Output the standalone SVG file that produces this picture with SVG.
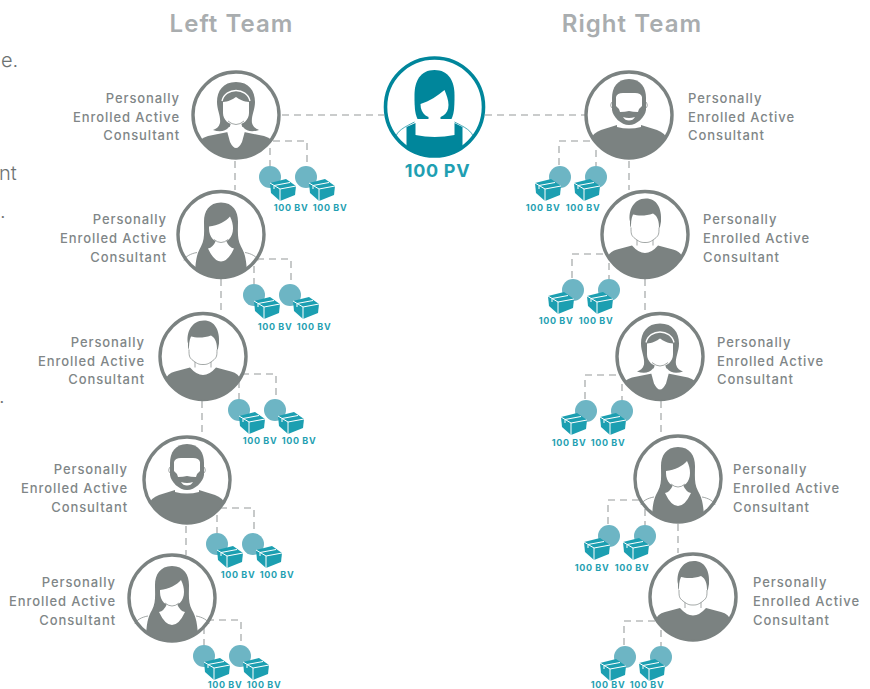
<svg xmlns="http://www.w3.org/2000/svg" xmlns:xlink="http://www.w3.org/1999/xlink" width="870" height="689" viewBox="0 0 870 689">
<style>
text{font-family:"Inter","Liberation Sans",sans-serif}
.title{font-size:24px;font-weight:600;fill:#a9adaf;letter-spacing:1.05px;text-anchor:middle}
.lab{font-size:13px;font-weight:500;fill:#808687;letter-spacing:.92px}
.end{text-anchor:end}
.bv{font-size:9px;font-weight:700;fill:#1f9fb2;text-anchor:middle;letter-spacing:.6px}
.pv{font-size:18px;font-weight:700;fill:#1f9fb2;text-anchor:middle;letter-spacing:.7px}
.stray{font-size:20px;font-weight:300;fill:#6d7272}
.dash{fill:none;stroke:#b9bcbc;stroke-width:1.6;stroke-dasharray:7 5}
.ring{fill:#fff;stroke:#7b8281;stroke-width:3.4}
.g{fill:#7b8281}
.w{fill:#fff}
.t{fill:none;stroke:#7b8281;stroke-width:.7}
.c{fill:#6db5c4}
.b{fill:#1c9fb1}
.bl{fill:none;stroke:#fff;stroke-width:1}
</style>
<defs>
<clipPath id="cp"><circle r="43"/></clipPath>
<clipPath id="cpc"><circle r="49"/></clipPath>
<symbol id="box" overflow="visible">
<path class="b" d="M-13-7 3-11 13-4 12 5-3 11-12 3Z"/>
<path class="bl" d="M-13-7-3-1 13-4M-3-1V11M-9-4.500 7-7.500M-9-4.500V-1"/>
</symbol>
<g id="pack-l">
<circle class="c" cx="270" cy="177" r="11"/><circle class="c" cx="306" cy="177" r="11"/>
<use href="#box" x="283" y="190"/><use href="#box" x="322" y="190"/>
</g>
<g id="pack-r">
<circle class="c" cx="560" cy="177" r="11"/><circle class="c" cx="596" cy="177" r="11"/>
<use href="#box" x="548" y="190"/><use href="#box" x="587" y="190"/>
</g>
<g id="av-headband">
<circle class="ring" r="43"/>
<g clip-path="url(#cp)">
<path class="g" d="M-36 44V27Q-35 23-28 21L-8 17H8L28 21Q35 23 36 27V44Z"/>
<path class="w" d="M-9 16-6 27Q-3 33 0 33T6 27L9 16Z"/>
</g>
<path class="g" d="M0-33C-13-33-19-24-19-13-19-5-15 1-16 8-17 12-20 14-23 15-17 17-11 17-7 12H7C11 17 17 17 23 15 20 14 17 12 16 8 15 1 19-5 19-13 19-24 13-33 0-33Z"/>
<path class="w" d="M-13-13C-8-13-3-16 0-18 3-16 8-13 13-13V-2C13 5 7 10 0 10S-13 5-13-2Z"/>
<path fill="none" stroke="#fff" stroke-width="1.300" d="M-14-14C-11-28 11-28 14-14"/>
<path class="w" d="M-5 8H5L8 17-1 20-8 17Z"/>
<path class="t" d="M-8 6Q0 13 8 6"/>
</g>
<g id="av-long">
<circle class="ring" r="43"/>
<path class="t" d="M-37 26C-36 22-30 19-24 18M37 26C36 22 30 19 24 18"/>
<g clip-path="url(#cp)">
<path class="g" d="M0-32C-12-32-17-23-17-13-17-3-16 5-20 12-24 19-26 26-26 44H26C26 26 24 19 20 12 16 5 17-3 17-13 17-23 12-32 0-32Z"/>
</g>
<path class="w" d="M-13 14Q-8 13-5 6H5Q8 13 13 14 7 27 0 27T-13 14Z"/>
<path class="w" d="M-12-8C-3-9 5-13 9-18 11-14 12-10 12-6 12 3 6 8 0 8S-12 3-12-6Z"/>
<path class="t" d="M-7 5Q0 11 7 5"/>
</g>
<g id="av-man">
<circle class="ring" r="43"/>
<g clip-path="url(#cp)">
<path class="g" d="M-38 44V24Q-36 17-28 15L-13 11Q0 26 13 11L28 15Q36 17 38 24V44Z"/>
</g>
<path class="w" d="M-8 2V11Q0 24 8 11V2Z"/>
<path class="t" d="M-8 4V11M8 4V11"/>
<path class="w" d="M-14-18C-14-8-15 0-10 4-5 8-3 8 0 8S5 8 10 4C15 0 14-8 14-18Z"/>
<path class="t" d="M-14-7C-14-1-14 1-10 4-5 8-3 8 0 8S5 8 10 4C14 1 14-1 14-7"/>
<path class="g" d="M-15-13C-17-23-12-36 1-36 12-36 17-26 16-13 15-8 15-6 14-7 14-13 13-18 8-21 0-18-8-19-12-20-14-16-14-11-14-7-15-8-15-10-15-13Z"/>
</g>
<g id="av-beard">
<circle class="ring" r="43"/>
<g clip-path="url(#cp)">
<path class="g" d="M-38 44V24Q-36 18-28 15L-12 10H12L28 15Q36 18 38 24V44Z"/>
</g>
<path class="w" d="M-12 5-12 12Q0 15 12 12L12 5Z"/>
<path class="t" d="M-17-13Q-20-9-16-6M17-13Q20-9 16-6"/>
<path class="g" d="M0-36C-12-36-17-27-17-17V-5C-16 2-8 10 0 10S16 2 17-5V-17C17-27 12-36 0-36Z"/>
<path class="w" d="M-13-9V-18Q-12-22-6-22H6Q12-22 13-18V-9Q10-7 9-3 4-3 0-4-4-3-9-3-10-7-13-9Z"/>
<path class="w" d="M-6 2Q0 4 6 2 4 5.500 0 5.500T-6 2Z"/>
</g>
</defs>

<g id="stray-text">
<text class="stray" x="1" y="67">e.</text>
<text class="stray" x="-1" y="180">nt</text>
<text class="stray" x="0" y="218">.</text>
<text class="stray" x="-1" y="403">.</text>
</g>

<g id="titles">
<text class="title" x="231.500" y="32">Left Team</text>
<text class="title" x="632" y="32">Right Team</text>
</g>

<g id="connectors">
<path class="dash" d="M282 115H384M485 115H585"/>
<path class="dash" d="M235 161V190M221 279V312M202 401V435M186 526V555M629 161V190M645 279V312M661 401V435M678 524V553"/>
<path id="br-l" class="dash" d="M273 141H307V166M270 148V166"/>
<use href="#br-l" x="-16" y="118"/><use href="#br-l" x="-31" y="233"/><use href="#br-l" x="-53" y="367"/><use href="#br-l" x="-66" y="479"/>
<path id="br-r" class="dash" d="M590 141H559V166M596 150V166"/>
<use href="#br-r" x="13" y="113"/><use href="#br-r" x="26" y="234"/><use href="#br-r" x="49" y="359"/><use href="#br-r" x="65" y="480"/>
</g>

<g id="center-node">
<circle r="49" cx="434.500" cy="107" fill="#fff" stroke="#00869b" stroke-width="3.600"/>
<g transform="translate(434.500 107)">
<path fill="none" stroke="#00869b" stroke-width=".7" d="M-39 31C-38 24-30 20-20 15M39 31C38 24 30 20 20 15"/>
<g clip-path="url(#cpc)"><path fill="#00869b" d="M-28 50V20L-19 16V28Q0 32 20 28V16L28 20V50Z"/></g>
<path fill="#00869b" d="M0-37C-14-37-20-26-20-12-20-3-20 6-17 12H17C20 6 20-3 20-12 20-26 14-37 0-37Z"/>
<path class="w" d="M-14-3C-5-6 3-11 10-17 12-12 14-7 14-2 14 8 6 11 0 11S-14 8-14-3Z"/>
<path class="w" d="M-6 9H6V18L0 21-6 18Z"/>
</g>
<text class="pv" x="437.500" y="177">100 PV</text>
</g>

<g id="l1"><use href="#av-headband" transform="translate(236 115)"/><text class="lab end" x="180" y="103">Personally</text><text class="lab end" x="180" y="122">Enrolled Active</text><text class="lab end" x="180" y="140">Consultant</text></g>
<g id="l2"><use href="#av-long" transform="translate(221 234.500)"/><text class="lab end" x="167" y="224">Personally</text><text class="lab end" x="167" y="243">Enrolled Active</text><text class="lab end" x="167" y="262">Consultant</text></g>
<g id="l3"><use href="#av-man" transform="translate(203 356.500)"/><text class="lab end" x="145" y="347">Personally</text><text class="lab end" x="145" y="366">Enrolled Active</text><text class="lab end" x="145" y="384">Consultant</text></g>
<g id="l4"><use href="#av-beard" transform="translate(187 480)"/><text class="lab end" x="128" y="474">Personally</text><text class="lab end" x="128" y="493">Enrolled Active</text><text class="lab end" x="128" y="512">Consultant</text></g>
<g id="l5"><use href="#av-long" transform="translate(172 598)"/><text class="lab end" x="116" y="587">Personally</text><text class="lab end" x="116" y="606">Enrolled Active</text><text class="lab end" x="116" y="625">Consultant</text></g>

<g id="r1"><use href="#av-beard" transform="translate(629 115)"/><text class="lab" x="688" y="103">Personally</text><text class="lab" x="688" y="122">Enrolled Active</text><text class="lab" x="688" y="140">Consultant</text></g>
<g id="r2"><use href="#av-man" transform="translate(645 234.500)"/><text class="lab" x="703" y="224">Personally</text><text class="lab" x="703" y="243">Enrolled Active</text><text class="lab" x="703" y="262">Consultant</text></g>
<g id="r3"><use href="#av-headband" transform="translate(660 356.500)"/><text class="lab" x="717" y="347">Personally</text><text class="lab" x="717" y="366">Enrolled Active</text><text class="lab" x="717" y="384">Consultant</text></g>
<g id="r4"><use href="#av-long" transform="translate(678 479)"/><text class="lab" x="733" y="474">Personally</text><text class="lab" x="733" y="493">Enrolled Active</text><text class="lab" x="733" y="512">Consultant</text></g>
<g id="r5"><use href="#av-man" transform="translate(693 597)"/><text class="lab" x="753" y="587">Personally</text><text class="lab" x="753" y="606">Enrolled Active</text><text class="lab" x="753" y="625">Consultant</text></g>

<g id="pack-l1"><use href="#pack-l"/><text class="bv" x="291" y="211">100 BV</text><text class="bv" x="330" y="211">100 BV</text></g>
<g id="pack-l2"><use href="#pack-l" x="-16" y="118"/><text class="bv" x="275" y="330">100 BV</text><text class="bv" x="314" y="330">100 BV</text></g>
<g id="pack-l3"><use href="#pack-l" x="-31" y="233"/><text class="bv" x="260" y="444">100 BV</text><text class="bv" x="299" y="444">100 BV</text></g>
<g id="pack-l4"><use href="#pack-l" x="-53" y="367"/><text class="bv" x="238" y="578">100 BV</text><text class="bv" x="277" y="578">100 BV</text></g>
<g id="pack-l5"><use href="#pack-l" x="-66" y="479"/><text class="bv" x="225" y="688">100 BV</text><text class="bv" x="264" y="688">100 BV</text></g>
<g id="pack-r1"><use href="#pack-r"/><text class="bv" x="543" y="211">100 BV</text><text class="bv" x="583" y="211">100 BV</text></g>
<g id="pack-r2"><use href="#pack-r" x="13" y="113"/><text class="bv" x="556" y="324">100 BV</text><text class="bv" x="596" y="324">100 BV</text></g>
<g id="pack-r3"><use href="#pack-r" x="26" y="234"/><text class="bv" x="569" y="446">100 BV</text><text class="bv" x="608" y="446">100 BV</text></g>
<g id="pack-r4"><use href="#pack-r" x="49" y="359"/><text class="bv" x="592" y="571">100 BV</text><text class="bv" x="632" y="571">100 BV</text></g>
<g id="pack-r5"><use href="#pack-r" x="65" y="480"/><text class="bv" x="608" y="688">100 BV</text><text class="bv" x="647" y="688">100 BV</text></g>
</svg>
